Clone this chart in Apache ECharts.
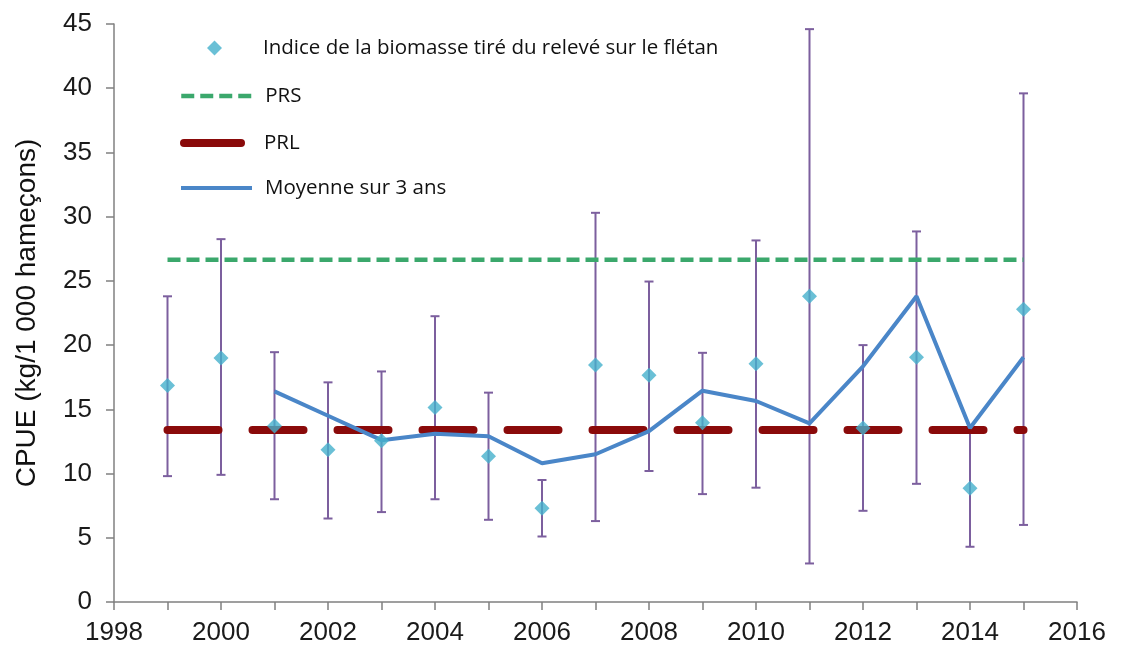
<!DOCTYPE html>
<html>
<head>
<meta charset="utf-8">
<script src="https://cdn.jsdelivr.net/npm/echarts@6/dist/echarts.min.js"></script>
<style>
	html, body { margin: 0; padding: 0; background: #fff; }
	#chart { width: 1148px; height: 648px; }
</style>
</head>
<body>
<div id="chart"></div>
<script>
	// survey years and biomass index with its error bars
	var years = [1999, 2000, 2001, 2002, 2003, 2004, 2005, 2006, 2007, 2008, 2009, 2010, 2011, 2012, 2013, 2014, 2015];
	var biomass = [16.85, 19.0, 13.7, 11.85, 12.55, 15.15, 11.35, 7.3, 18.45, 17.65, 13.95, 18.55, 23.8, 13.55, 19.05, 8.85, 22.8];
	var errLow = [9.8, 9.9, 8.0, 6.5, 7.0, 8.0, 6.4, 5.1, 6.3, 10.2, 8.4, 8.9, 3.0, 7.1, 9.2, 4.3, 6.0];
	var errHigh = [23.8, 28.25, 19.45, 17.1, 17.95, 22.25, 16.3, 9.5, 30.3, 24.95, 19.4, 28.15, 44.6, 20.0, 28.85, 13.4, 39.6];

	// 3-year running mean
	var meanYears = [2001, 2002, 2003, 2004, 2005, 2006, 2007, 2008, 2009, 2010, 2011, 2012, 2013, 2014, 2015];
	var mean3 = [16.4, 14.5, 12.6, 13.1, 12.9, 10.8, 11.5, 13.3, 16.45, 15.65, 13.9, 18.35, 23.8, 13.55, 19.05];

	// reference points
	var refYears = [1999, 2015];
	var prs = 26.65;
	var prl = 13.4;

	var names = {
		biomass: 'Indice de la biomasse tiré du relevé sur le flétan',
		prs: 'PRS',
		prl: 'PRL',
		mean: 'Moyenne sur 3 ans'
	};

	function pairs(xs, ys) {
		var out = [];
		for (var i = 0; i < xs.length; i++) {
			out.push([xs[i], ys[i]]);
		}
		return out;
	}

	var errData = [];
	for (var i = 0; i < years.length; i++) {
		errData.push([years[i], errLow[i], errHigh[i]]);
	}

	var legendText = {
		fontFamily: 'Open Sans',
		fontSize: 20.5,
		color: '#111',
		lineHeight: 22
	};

	function makeLegend(name, left, top, w, h, icon, padLeft, extra) {
		var lg = {
			data: [name],
			left: left,
			top: top,
			padding: 0,
			itemWidth: w,
			itemHeight: h,
			selectedMode: false,
			textStyle: Object.assign({ padding: [0, 0, 0, padLeft] }, legendText)
		};
		if (icon) lg.icon = icon;
		return Object.assign(lg, extra || {});
	}

	// line legends: no symbol dot, keep the series' own line look
	function lineLegend(lineStyle) {
		return { itemStyle: { opacity: 0 }, lineStyle: lineStyle };
	}

	var chart = echarts.init(document.getElementById('chart'));

	var option = {
		animation: false,
		backgroundColor: '#fff',
		grid: {
			left: 114,
			right: 71,
			top: 24,
			bottom: 46
		},
		legend: [
			makeLegend(names.biomass, 207, 37, 15, 15, 'diamond', 36),
			makeLegend(names.prs, 179, 85, 71, 8, null, 8,
				lineLegend({ width: 4.5, type: [13, 6], color: '#3ba86c' })),
			makeLegend(names.prl, 180, 132, 57, 8, null, 18,
				lineLegend({ width: 8, type: 'solid', cap: 'round', color: '#8a0a0a' })),
			makeLegend(names.mean, 179, 177, 71, 8, null, 8,
				lineLegend({ width: 4, type: 'solid', color: '#4a86c8' }))
		],
		xAxis: {
			type: 'value',
			min: 1998,
			max: 2016,
			interval: 1,
			splitLine: { show: false },
			axisLine: { lineStyle: { color: '#808080', width: 1.5 } },
			axisTick: { length: 8, lineStyle: { color: '#808080', width: 1.5 } },
			axisLabel: {
				margin: 18,
				fontFamily: 'Liberation Sans',
				fontSize: 26,
				color: '#1a1a1a',
				formatter: function (v) { return v % 2 === 0 ? String(v) : ''; }
			}
		},
		yAxis: {
			type: 'value',
			min: 0,
			max: 45,
			interval: 5,
			name: 'CPUE (kg/1 000 hameçons)',
			nameLocation: 'middle',
			nameGap: 73,
			nameTextStyle: {
				fontFamily: 'Liberation Sans',
				fontSize: 28,
				color: '#111'
			},
			splitLine: { show: false },
			axisLine: { show: true, lineStyle: { color: '#808080', width: 1.5 } },
			axisTick: { show: true, length: 8, lineStyle: { color: '#808080', width: 1.5 } },
			axisLabel: {
				margin: 22,
				fontFamily: 'Liberation Sans',
				fontSize: 26,
				color: '#1a1a1a'
			}
		},
		series: [
			{
				// error bars
				type: 'custom',
				z: 1,
				silent: true,
				data: errData,
				renderItem: function (params, api) {
					var x = api.value(0);
					var lo = api.coord([x, api.value(1)]);
					var hi = api.coord([x, api.value(2)]);
					var cap = 4.5;
					var style = { stroke: '#7c5f9e', lineWidth: 2 };
					return {
						type: 'group',
						children: [
							{ type: 'line', shape: { x1: lo[0], y1: lo[1], x2: hi[0], y2: hi[1] }, style: style },
							{ type: 'line', shape: { x1: hi[0] - cap, y1: hi[1], x2: hi[0] + cap, y2: hi[1] }, style: style },
							{ type: 'line', shape: { x1: lo[0] - cap, y1: lo[1], x2: lo[0] + cap, y2: lo[1] }, style: style }
						]
					};
				}
			},
			{
				name: names.prs,
				type: 'line',
				z: 2,
				symbol: 'none',
				data: pairs(refYears, [prs, prs]),
				lineStyle: { color: '#3ba86c', width: 4.5, type: [13, 6] },
				itemStyle: { color: '#3ba86c' }
			},
			{
				name: names.prl,
				type: 'line',
				z: 3,
				symbol: 'none',
				data: pairs(refYears, [prl, prl]),
				lineStyle: { color: '#8a0a0a', width: 8, type: [51, 34], cap: 'round' },
				itemStyle: { color: '#8a0a0a' }
			},
			{
				name: names.mean,
				type: 'line',
				z: 4,
				symbol: 'none',
				data: pairs(meanYears, mean3),
				lineStyle: { color: '#4a86c8', width: 4 },
				itemStyle: { color: '#4a86c8' }
			},
			{
				name: names.biomass,
				type: 'scatter',
				z: 5,
				symbol: 'diamond',
				symbolSize: 15,
				data: pairs(years, biomass),
				itemStyle: { color: '#45b0cc' }
			}
		]
	};

	chart.setOption(option);
</script>
</body>
</html>
